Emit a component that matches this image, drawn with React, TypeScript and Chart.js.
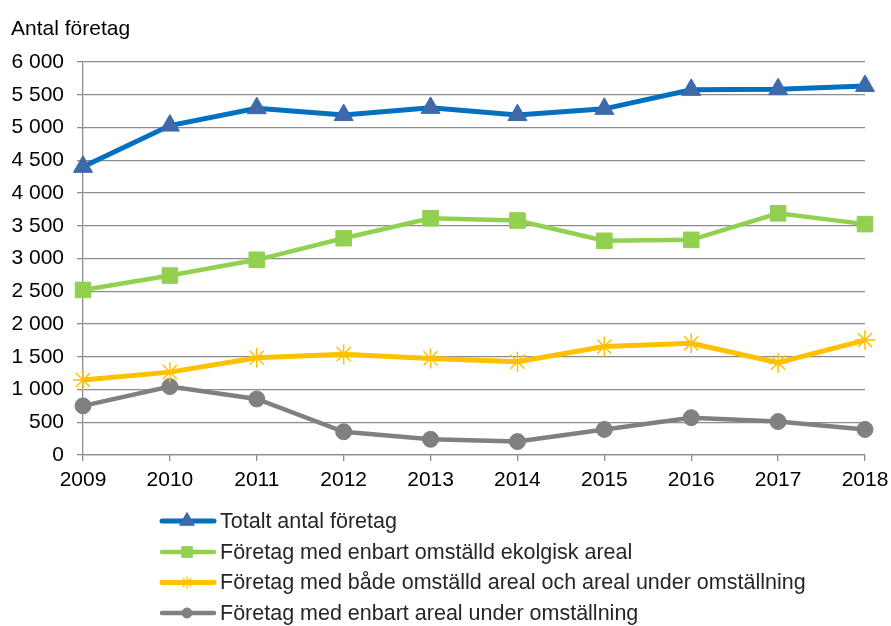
import React, { useEffect, useRef } from "react";
import { Chart, registerables } from "chart.js";

Chart.register(...registerables);

const years = ["2009", "2010", "2011", "2012", "2013", "2014", "2015", "2016", "2017", "2018"];
const totaltAntal = [4400, 5030, 5295, 5190, 5300, 5190, 5285, 5575, 5585, 5635];
const enbartOmstalld = [2520, 2740, 2980, 3310, 3615, 3580, 3270, 3285, 3690, 3525];
const badeOmstalldOchUnder = [1145, 1265, 1485, 1540, 1475, 1425, 1655, 1705, 1410, 1755];
const enbartUnderOmstallning = [750, 1045, 855, 355, 240, 205, 390, 570, 510, 390];
const yTickLabels = ["0", "500", "1 000", "1 500", "2 000", "2 500", "3 000", "3 500", "4 000", "4 500", "5 000", "5 500", "6 000"];
const seriesNames = [
  "Totalt antal företag",
  "Företag med enbart omställd ekolgisk areal",
  "Företag med både omställd areal och areal under omställning",
  "Företag med enbart areal under omställning",
];
const yTitle = "Antal företag";

const FONT = "'Liberation Sans', Arial, sans-serif";

function drawMarker(ctx: CanvasRenderingContext2D, style: string, x: number, y: number, r: number, fill: string, stroke: string, lw: number) {
  ctx.save();
  ctx.fillStyle = fill;
  ctx.strokeStyle = stroke;
  ctx.lineWidth = lw;
  ctx.lineJoin = "round";
  ctx.beginPath();
  if (style === "triangle") {
    for (let i = 0; i < 3; i++) {
      const a = (i * 2 * Math.PI) / 3;
      const px = x + Math.sin(a) * r;
      const py = y - Math.cos(a) * r;
      if (i === 0) ctx.moveTo(px, py);
      else ctx.lineTo(px, py);
    }
    ctx.closePath();
    ctx.fill();
    ctx.stroke();
  } else if (style === "rect") {
    const s = r * Math.SQRT1_2;
    ctx.rect(x - s, y - s, 2 * s, 2 * s);
    ctx.fill();
    ctx.stroke();
  } else if (style === "circle") {
    ctx.arc(x, y, r, 0, Math.PI * 2);
    ctx.fill();
    ctx.stroke();
  } else if (style === "star") {
    for (let i = 0; i < 4; i++) {
      const a = (i * Math.PI) / 4;
      ctx.moveTo(x + Math.cos(a) * r, y + Math.sin(a) * r);
      ctx.lineTo(x - Math.cos(a) * r, y - Math.sin(a) * r);
    }
    ctx.stroke();
  }
  ctx.restore();
}

const styles = [
  { line: "#0070C0", marker: "#3E6AAA", style: "triangle", lw: 5, r: 11, lr: 8.5 },
  { line: "#92D050", marker: "#92D050", style: "rect", lw: 4.5, r: 11, lr: 7.5 },
  { line: "#FFC000", marker: "#FFC000", style: "star", lw: 5, r: 10, lr: 6 },
  { line: "#808080", marker: "#808080", style: "circle", lw: 4.5, r: 8, lr: 5 },
];

const overlayPlugin = {
  id: "overlay",
  afterDraw(chart: any) {
    const ctx: CanvasRenderingContext2D = chart.ctx;
    ctx.save();
    ctx.fillStyle = "#000";
    ctx.font = `21px ${FONT}`;
    ctx.textAlign = "left";
    ctx.textBaseline = "alphabetic";
    ctx.fillText(yTitle, 11, 35);

    const rowsY = [521, 552, 582.5, 613];
    seriesNames.forEach((name, i) => {
      const st = styles[i];
      const y = rowsY[i];
      ctx.save();
      ctx.strokeStyle = st.line;
      ctx.lineWidth = st.lw;
      ctx.lineCap = "round";
      ctx.beginPath();
      ctx.moveTo(162, y);
      ctx.lineTo(214, y);
      ctx.stroke();
      ctx.restore();
      drawMarker(ctx, st.style, 187, y, st.lr, st.marker, st.marker, st.style === "star" ? 1.2 : 1);
      ctx.fillStyle = "#262626";
      ctx.font = `21.5px ${FONT}`;
      ctx.textBaseline = "middle";
      ctx.textAlign = "left";
      ctx.fillText(name, 220, y + 1);
    });
    ctx.restore();
  },
};

export default function App() {
  const ref = useRef<HTMLCanvasElement | null>(null);
  useEffect(() => {
    document.body.style.margin = "0";
    if (!ref.current) return;
    const seriesData = [totaltAntal, enbartOmstalld, badeOmstalldOchUnder, enbartUnderOmstallning];
    const chart = new Chart(ref.current, {
      type: "line",
      data: {
        labels: years,
        datasets: seriesData.map((d, i) => ({
          label: seriesNames[i],
          data: d,
          borderColor: styles[i].line,
          borderWidth: styles[i].lw,
          backgroundColor: styles[i].line,
          pointStyle: styles[i].style as any,
          pointRadius: styles[i].r,
          pointHoverRadius: styles[i].r,
          pointBackgroundColor: styles[i].marker,
          pointBorderColor: styles[i].marker,
          pointBorderWidth: styles[i].style === "star" ? 1.5 : 1,
          tension: 0,
          fill: false,
        })),
      },
      options: {
        responsive: false,
        animation: false,
        layout: { padding: { top: 62, right: 26, bottom: 131, left: 0 } },
        plugins: {
          legend: { display: false },
          title: { display: false },
          tooltip: { enabled: false },
        },
        scales: {
          x: {
            type: "category",
            offset: false,
            grid: {
              drawOnChartArea: false,
              drawTicks: true,
              tickLength: 6,
              color: "#8c8c8c",
              lineWidth: 1.3,
            },
            border: { display: true, color: "#8c8c8c", width: 1.3 },
            ticks: {
              color: "#000",
              font: { family: FONT, size: 21 },
              padding: 7,
              maxRotation: 0,
              autoSkip: false,
            },
            afterFit: (s: any) => {
              s.height = 40;
              s.paddingLeft = 0;
              s.paddingRight = 0;
            },
          },
          y: {
            min: 0,
            max: 6000,
            grid: {
              drawOnChartArea: true,
              drawTicks: true,
              tickLength: 6,
              color: "#8c8c8c",
              lineWidth: 1.3,
            },
            border: { display: true, color: "#8c8c8c", width: 1.3 },
            ticks: {
              stepSize: 500,
              color: "#000",
              font: { family: FONT, size: 21 },
              padding: 13,
              callback: (_v: any, idx: number) => yTickLabels[idx],
            },
            afterFit: (s: any) => {
              s.width = 83;
              s.paddingTop = 0;
              s.paddingBottom = 0;
            },
          },
        },
      },
      plugins: [overlayPlugin],
    });
    return () => chart.destroy();
  }, []);
  return <canvas ref={ref} width={891} height={626} />;
}
